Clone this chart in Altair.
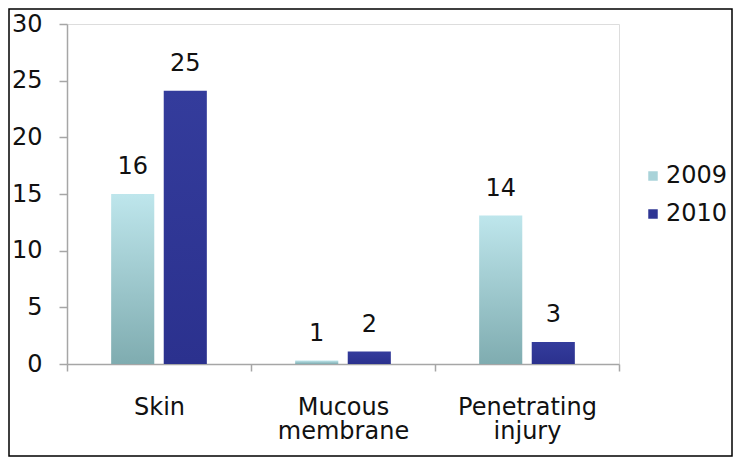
import altair as alt
import pandas as pd

categories = ["Skin", "Mucous membrane", "Penetrating injury"]
years = ["2009", "2010"]
heights_2009 = [15.0, 0.3, 13.1]
heights_2010 = [24.1, 1.1, 1.95]
labels_2009 = ["16", "1", "14"]
labels_2010 = ["25", "2", "3"]
legend_colors = ["#A9D3D9", "#2F3694"]

rows = []
for c, h, l in zip(categories, heights_2009, labels_2009):
    rows.append({"category": c, "year": "2009", "value": h, "label": l})
for c, h, l in zip(categories, heights_2010, labels_2010):
    rows.append({"category": c, "year": "2010", "value": h, "label": l})
df = pd.DataFrame(rows)

FONT = "DejaVu Sans"

x_enc = alt.X(
    "category:N",
    sort=categories,
    scale=alt.Scale(paddingInner=0, paddingOuter=0),
    axis=alt.Axis(
        title=None,
        labelAngle=0,
        labelExpr="isValid(datum.value) ? split(datum.value, ' ') : ''",
        labelFont=FONT,
        labelFontSize=24,
        labelColor="#111111",
        labelLineHeight=24,
        labelPadding=24,
        tickBand="extent",
        tickSize=7,
        tickColor="#A6A6A6",
        domainColor="#A6A6A6",
        domainWidth=1.5,
        tickWidth=1.5,
    ),
)
xo_enc = alt.XOffset(
    "year:N",
    scale=alt.Scale(domain=years, paddingInner=0.18, paddingOuter=0.84),
)
y_enc = alt.Y(
    "value:Q",
    scale=alt.Scale(domain=[0, 30], nice=False),
    axis=alt.Axis(
        title=None,
        values=[0, 5, 10, 15, 20, 25, 30],
        grid=False,
        labelFont=FONT,
        labelFontSize=24,
        labelColor="#111111",
        labelPadding=17,
        tickSize=8,
        tickColor="#A6A6A6",
        domainColor="#A6A6A6",
        domainWidth=1.5,
        tickWidth=1.5,
    ),
)

grad_2009 = alt.Gradient(
    gradient="linear",
    stops=[
        alt.GradientStop(color="#BEE6EC", offset=0),
        alt.GradientStop(color="#7FACB0", offset=1),
    ],
    x1=0, x2=0, y1=0, y2=1,
)
grad_2010 = alt.Gradient(
    gradient="linear",
    stops=[
        alt.GradientStop(color="#343C9C", offset=0),
        alt.GradientStop(color="#2B318E", offset=1),
    ],
    x1=0, x2=0, y1=0, y2=1,
)

base = alt.Chart(df)

bars_2009 = base.transform_filter(alt.datum.year == "2009").mark_bar(
    color=grad_2009
).encode(x=x_enc, xOffset=xo_enc, y=y_enc)

bars_2010 = base.transform_filter(alt.datum.year == "2010").mark_bar(
    color=grad_2010
).encode(x=x_enc, xOffset=xo_enc, y=y_enc)

texts = base.mark_text(
    font=FONT, fontSize=24, color="#111111", baseline="middle", dy=-27
).encode(x=x_enc, xOffset=xo_enc, y=y_enc, text="label:N")

legend_layer = base.mark_square(opacity=0).encode(
    x=x_enc,
    xOffset=xo_enc,
    y=y_enc,
    color=alt.Color(
        "year:N",
        scale=alt.Scale(domain=years, range=legend_colors),
        legend=alt.Legend(
            title=None,
            orient="none",
            legendX=574,
            legendY=140,
            symbolType="square",
            symbolSize=90,
            symbolOpacity=1,
            symbolStrokeWidth=0,
            labelFont=FONT,
            labelFontSize=24,
            labelColor="#111111",
            labelOffset=1,
            rowPadding=14,
            padding=0,
        ),
    ),
)

frame = alt.Chart(pd.DataFrame({"a": [0]})).mark_rect(
    fill=None, stroke="#000000", strokeWidth=1.5
).encode(
    x=alt.value(-58),
    x2=alt.value(725 - 59 - 1),
    y=alt.value(-15),
    y2=alt.value(449 - 16 - 1),
)

chart = alt.layer(bars_2009, bars_2010, texts, legend_layer, frame).properties(
    width=552,
    height=340,
    autosize=alt.AutoSizeParams(type="none"),
    padding={"left": 59, "top": 16, "right": 114, "bottom": 93},
).configure_view(stroke=None).configure(background="white")

chart.save("out.html", embed_options={"renderer": "svg", "actions": False})
